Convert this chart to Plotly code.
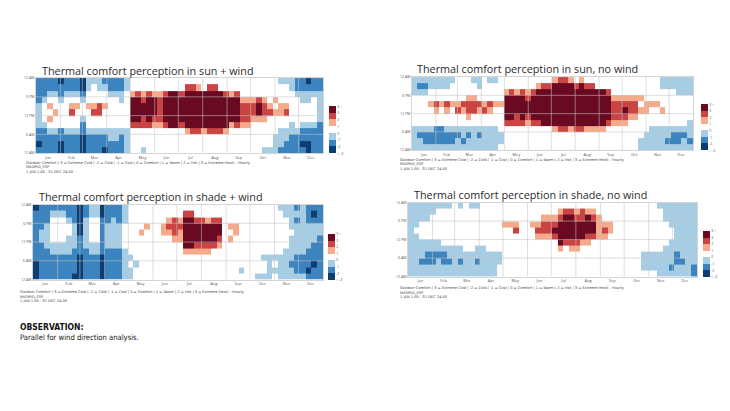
import plotly.graph_objects as go

months = ["Jan", "Feb", "Mar", "Apr", "May", "Jun", "Jul", "Aug", "Sep", "Oct", "Nov", "Dec"]
month_days = [31, 28, 31, 30, 31, 30, 31, 31, 30, 31, 30, 31]
hour_ticks = [0, 6, 12, 18, 24]
hour_labels = ["12 AM", "6 AM", "12 PM", "6 PM", "12 AM"]
legend_labels = ["< -3", "-2", "-1", "0", "1", "2", "3", "3 <"]

titles = [
    "Thermal comfort perception in sun + wind",
    "Thermal comfort perception in sun, no wind",
    "Thermal comfort perception in shade + wind",
    "Thermal comfort perception in shade, no wind",
]
note_lines = [
    "Outdoor Comfort (-3 = Extreme Cold | -2 = Cold | -1 = Cool | 0 = Comfort | 1 = Warm | 2 = Hot | 3 = Extreme Heat) - Hourly",
    "MADRID_ESP",
    "1 JAN 1:00 - 31 DEC 24:00",
]

# comfort codes: c=-3, b=-2, a=-1, .=0, 1, 2, 3
# one string per week in 2-hour steps from 22-24h (top) to 0-2h (bottom)
sun_wind = [
    "bbbbaaaabbcb", "bbba...abbbb", "bba.1.1.abbb", "bba..1..abbb", "cbba....bbcc",
    "bba.....abbb", "bba.12..abbb", "bba.1...abbb", "ccba..abbccc", "aa..1...abbb",
    "a...12..abbb", "aa..22..abbb", "ba..1...abbc", "bba.....aabb", "bba.....aabb",
    "bbaa....abbb", "aa......aaaa", "..133332....", "..233332....", "..123322...a",
    "..233332....", "..133321....", "..122221....", "..233332....", "..333333....",
    "..333333....", "..233332....", ".23333331...", ".23333332...", ".13333332...",
    "..3333331...", ".23333332...", ".23333332...", "..3333332...", "..2333331...",
    "..133331....", "..233332....", "...12221....", "...12221....", "...1221.....",
    "...2331.....", "...1221....a", "....12.....a", "...1.1...aaa", "a...11..aaab",
    "a...12..aabb", "aa.....aabbb", "bba.....abbb", "bbaa...abbcb", "cbaa...abbcc",
    "bba....abbbb", "bbaaaaabbbbb",
]
sun_calm = [
    "aaa.....aaaa", "aba.....abaa", "aba.....abba", "aa..1...abba", "aa..21..bbba",
    "aa..1...bbba", "aa..21..abba", "a...1...abba", "....12..abaa", "....21..aaba",
    "...1221.abaa", "a..122..aaaa", "aa..21..abaa", "....12..aaaa", "a...21..aaaa",
    "a...1...aaaa", "....1....aa.", "..133332....", "..233332....", "..133322....",
    "..233332....", "..123321....", "..233332....", ".1333332....", ".2333333....",
    ".2333333....", "133333331...", "233333332...", "233333332...", "133333331...",
    ".23333332...", "133333332...", ".23333331...", ".23333331...", "..3333331...",
    "..3333331...", "..233332....", "...12221....", "...12221....", "...12321....",
    "...1221.....", "...1221.....", "...1.1....aa", "....11...aaa", "....1...aaaa",
    "....1...aaaa", "aa...1..aaaa", "aa......aaba", "aa......abba", "aaa.....abba",
    "aaa.....abaa", "aaa....aaaba",
]
shade_wind = [
    "cbbbbbbbbccc", "bbbbaabbbbbb", "bbbaaaabbbbb", "ba....aabbbb", "ba....aabbbb",
    "ba....aabbbb", "bba..aaabbbb", "bbbaaaabbbbc", "cccccbbbcccc", "bbaaaaabbbbb",
    "aa....aabbbb", "aa....aabbbb", "ccbbbbbbcccc", "bbbaaaabbbbb", "bbaaaaabbbbb",
    "bbbaaaabbbbb", "aaa....aaaaa", "........a.aa", ".........a..", "....1.......",
    "...1........", "............", "............", "...11.......", "..121.......",
    "..2221......", "..1211......", ".2333331....", ".2333331....", "..233321....",
    "..233321....", "..133321....", "..23332.....", "..23321.....", "............",
    "...1.1......", "...11.......", "..........a.", "............", "............",
    "...........a", "........a..a", "........aaaa", "........a.a.", "a.......aaaa",
    "aa.....aaaaa", "aaaa.aaaabaa", "babaaaaabbba", "aaaaaaaabbba", "bbbaaaabbbcb",
    "bcbaaabbbcbb", "bbbaabbbbbbb",
]
shade_calm = [
    "aaaaaaaaaaaa", "aaaa.aaaaaaa", "aaa...aaabaa", "aaa...aabbaa", "aa....aabbaa",
    "a.....aabaaa", "a......abbaa", "a......aabaa", ".......aaaaa", "a......aabaa",
    "........aaaa", "a.......aaaa", "a......aabaa", ".......aaaaa", "........aaaa",
    "........aaaa", "........aa..", "...1........", "...1........", "...12.......",
    "............", "............", "...1........", "...121......", "..1221......",
    "..1221......", "..1232......", ".1233331....", ".233332.....", ".2333321....",
    ".1233321....", ".223331.....", ".133321.....", ".12332......", "..1111......",
    "...121......", "...11.......", "............", "............", "............",
    "............", "............", "........aaa.", "........aaa.", "........aaa.",
    "a.......aaaa", "aaa....aaaaa", "aaaa..aaaaba", "aaaaaaaabbaa", "aaaaaaaaabaa",
    "aaaaaaaaaaaa", "aaaaaaaaaabb",
]

code = {"c": -3, "b": -2, "a": -1, ".": 0, "1": 1, "2": 2, "3": 3}


def to_grid(weeks):
    return [[code[w[11 - r]] for w in weeks] for r in range(12)]


week_edges = [7 * i for i in range(52)] + [365]
hour_edges = list(range(0, 25, 2))
month_start = [sum(month_days[:i]) for i in range(12)]
month_mid = [month_start[i] + month_days[i] / 2 for i in range(12)]

colors = ["#0e3d72", "#3b84bf", "#a6cde4", "#ffffff", "#f5aa8b", "#c94443", "#6a0a22"]
scale = []
for i, c in enumerate(colors):
    scale.append([i / 7, c])
    scale.append([(i + 1) / 7, c])

W, H = 730, 411
# pixel boxes: plot x0,x1,y0,y1 ; colorbar x,y0,y1 ; title x,y ; note x,y
panels = [
    dict(z=sun_wind, box=(36, 323, 76, 152), cb=(329, 105, 152), t=(40, 68), n=(24, 162)),
    dict(z=sun_calm, box=(412, 693, 75, 149), cb=(701, 103, 149), t=(415, 66), n=(398, 159)),
    dict(z=shade_wind, box=(33, 323, 204, 280), cb=(328, 234, 280), t=(37, 196), n=(18, 293)),
    dict(z=shade_calm, box=(408, 697, 202, 277), cb=(703, 231, 277), t=(412, 194), n=(398, 289)),
]

fig = go.Figure()
for i, p in enumerate(panels):
    ax = "" if i == 0 else str(i + 1)
    x0, x1, y0, y1 = p["box"]
    cx, cy0, cy1 = p["cb"]
    fig.add_trace(go.Heatmap(
        z=to_grid(p["z"]), x=week_edges, y=hour_edges,
        xaxis="x" + ax, yaxis="y" + ax,
        colorscale=scale, zmin=-3.5, zmax=3.5, hoverinfo="skip",
        colorbar=dict(
            x=cx / W, xanchor="left", y=1 - (cy0 + cy1) / 2 / H, yanchor="middle",
            lenmode="pixels", len=cy1 - cy0, thickness=7, outlinewidth=0,
            tickvals=[v - 3.5 for v in range(8)], ticktext=legend_labels,
            tickfont=dict(size=3.5, color="#555"), ticks="", xpad=0, ypad=0,
        ),
    ))
    fig.update_layout(**{
        "xaxis" + ax: dict(
            domain=[x0 / W, x1 / W], anchor="y" + ax, range=[0, 365],
            tickvals=month_mid, ticktext=months, ticks="", showgrid=False, zeroline=False,
            showline=True, mirror=True, linecolor="#d4d4d4", linewidth=0.8,
            tickfont=dict(size=4, color="#555"),
        ),
        "yaxis" + ax: dict(
            domain=[1 - y1 / H, 1 - y0 / H], anchor="x" + ax, range=[0, 24],
            tickvals=hour_ticks, ticktext=hour_labels, ticks="", showgrid=False, zeroline=False,
            showline=True, mirror=True, linecolor="#d4d4d4", linewidth=0.8,
            tickfont=dict(size=3.5, color="#555"),
        ),
    })
    for d in month_start[1:]:
        fig.add_shape(type="line", xref="x" + ax, yref="y" + ax, x0=d, x1=d, y0=0, y1=24,
                      line=dict(color="rgba(195,195,195,0.8)", width=0.7), layer="above")
    for h in hour_ticks[1:-1]:
        fig.add_shape(type="line", xref="x" + ax, yref="y" + ax, x0=0, x1=365, y0=h, y1=h,
                      line=dict(color="rgba(195,195,195,0.8)", width=0.7), layer="above")
    tx, ty = p["t"]
    fig.add_annotation(text=titles[i], xref="paper", yref="paper", x=tx / W, y=1 - ty / H,
                       xanchor="left", yanchor="middle", showarrow=False,
                       font=dict(family="Open Sans", size=10.8, color="#2a2a2a"))
    nx, ny = p["n"]
    for k, line in enumerate(note_lines):
        fig.add_annotation(text=line, xref="paper", yref="paper", x=nx / W, y=1 - (ny + 4.3 * k) / H,
                           xanchor="left", yanchor="middle", showarrow=False,
                           font=dict(family="DejaVu Sans", size=3.6, color="#444"))

fig.add_annotation(text="<b>OBSERVATION:</b>", xref="paper", yref="paper", x=18 / W, y=1 - 328 / H,
                   xanchor="left", yanchor="middle", showarrow=False,
                   font=dict(family="DejaVu Sans Condensed, Liberation Sans Narrow, sans-serif", size=8.5, color="#111"))
fig.add_annotation(text="Parallel for wind direction analysis.", xref="paper", yref="paper", x=18 / W, y=1 - 339 / H,
                   xanchor="left", yanchor="middle", showarrow=False,
                   font=dict(family="DejaVu Sans Condensed, Liberation Sans Narrow, sans-serif", size=7.6, color="#111"))

fig.update_layout(width=W, height=H, margin=dict(l=0, r=0, t=0, b=0),
                  paper_bgcolor="white", plot_bgcolor="white", showlegend=False)

fig.write_html("out.html", config={"displayModeBar": False},
               post_script="document.body.style.margin = '0';")
